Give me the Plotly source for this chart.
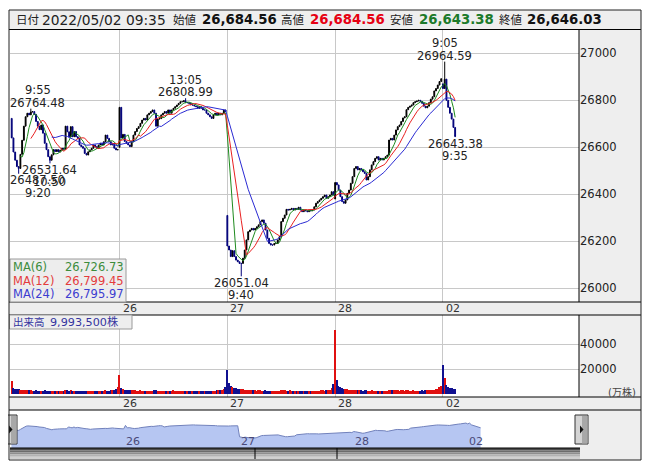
import pandas as pd
import plotly.graph_objects as go

# the page body adds an 8px margin; the figure is laid out in screen pixels
OFF = 8
W, H = 637, 454
FONT = "DejaVu Sans, Noto Sans CJK JP"

# ---- data (5-minute bars, 62 per day: 9:00-11:30 and 12:30-15:00) ----
day_labels = ["26", "27", "28", "02"]
day_opens = [26723, 26600, 26310, 26380, 26870]

close_0425 = [
    26640, 26580, 26545, 26518, 26510, 26570, 26630, 26690, 26730, 26745,
    26738, 26750, 26752, 26740, 26710, 26690, 26675, 26695, 26660, 26617,
    26590, 26560, 26545, 26568, 26590, 26582, 26590, 26580, 26588, 26596,
    26592, 26690, 26666, 26645, 26688, 26645, 26667, 26645, 26638, 26610,
    26603, 26596, 26574, 26567, 26581, 26589, 26596, 26610, 26603, 26596,
    26610, 26617, 26610, 26624, 26652, 26638, 26624, 26610, 26617, 26596,
    26589, 26590,
]
close_0426 = [
    26770, 26640, 26655, 26625, 26617, 26610, 26603, 26625, 26652, 26667,
    26680, 26688, 26702, 26716, 26723, 26716, 26738, 26745, 26752, 26759,
    26745, 26690, 26720, 26722, 26738, 26745, 26752, 26745, 26759, 26745,
    26759, 26766, 26773, 26780, 26787, 26794, 26794, 26798, 26790, 26790,
    26787, 26780, 26780, 26776, 26773, 26766, 26773, 26766, 26759, 26759,
    26745, 26738, 26730, 26723, 26738, 26745, 26738, 26745, 26738, 26745,
    26759, 26752,
]
close_0427 = [
    26180, 26163, 26135, 26160, 26135, 26120, 26113, 26106, 26106, 26128,
    26163, 26206, 26241, 26248, 26255, 26248, 26255, 26262, 26270, 26284,
    26291, 26277, 26248, 26213, 26191, 26184, 26184, 26191, 26191, 26206,
    26220, 26284, 26298, 26312, 26336, 26333, 26336, 26340, 26333, 26340,
    26336, 26345, 26333, 26326, 26333, 26330, 26326, 26333, 26330, 26333,
    26347, 26362, 26369, 26376, 26383, 26390, 26397, 26383, 26390, 26397,
    26411, 26397,
]
close_0428 = [
    26450, 26440, 26418, 26390, 26369, 26362, 26376, 26404, 26418, 26447,
    26475, 26510, 26518, 26504, 26510, 26504, 26496, 26489, 26461, 26475,
    26504, 26525, 26539, 26553, 26560, 26546, 26553, 26546, 26553, 26560,
    26567, 26631, 26638, 26631, 26652, 26674, 26688, 26695, 26710, 26725,
    26730, 26760, 26770, 26775, 26780, 26790, 26794, 26797, 26800, 26795,
    26787, 26775, 26768, 26775, 26790, 26805, 26815, 26840, 26850, 26865,
    26880, 26892,
]
close_0502 = [26850, 26890, 26800, 26770, 26745, 26720, 26684.56, 26646.03]

# volume in 万株
volume_0425 = [
    10400, 4600, 4200, 3800, 4400, 3600, 3500, 3400, 3200, 3000,
    2900, 3100, 2800, 2700, 2900, 2600, 2700, 2500, 2800, 2900,
    2700, 2600, 2800, 2500, 2400, 2500, 2300, 2400, 2500, 2400,
    2600, 3400, 3000, 2800, 3100, 2700, 2600, 2500, 2700, 2600,
    2500, 2400, 2600, 2500, 2400, 2300, 2500, 2400, 2600, 2500,
    2400, 2600, 2700, 2500, 2900, 2700, 2800, 3000, 3200, 3600,
    4400, 5600,
]
volume_0426 = [
    15200, 5200, 4000, 3600, 3400, 3300, 3100, 3000, 2900, 3000,
    2800, 2700, 2900, 2700, 2600, 2800, 2600, 2500, 2700, 2600,
    2900, 3000, 2700, 2500, 2400, 2600, 2400, 2300, 2500, 2400,
    2500, 2900, 2700, 2600, 2800, 2600, 2500, 2700, 2600, 2500,
    2400, 2600, 2500, 2400, 2300, 2500, 2600, 2400, 2500, 2700,
    2600, 2800, 2700, 2600, 2800, 2700, 2900, 3000, 3200, 3500,
    4200, 5400,
]
volume_0427 = [
    19200, 8800, 6400, 5600, 5000, 4600, 4400, 4200, 4000, 3800,
    3600, 3400, 3300, 3200, 3000, 3100, 2900, 2800, 3000, 2900,
    2800, 2700, 2900, 2800, 2600, 2700, 2500, 2600, 2500, 2400,
    2700, 3200, 3000, 2900, 2800, 2700, 2900, 2600, 2500, 2700,
    2600, 2500, 2400, 2600, 2500, 2400, 2300, 2500, 2400, 2600,
    2500, 2700, 2800, 2600, 2900, 3000, 2800, 3100, 3300, 3600,
    5200, 8400,
]
volume_0428 = [
    51200, 11200, 6800, 5400, 4800, 4400, 4000, 3800, 3600, 3500,
    3300, 3400, 3200, 3000, 3100, 2900, 2800, 3000, 2900, 2800,
    2700, 2900, 2800, 2600, 2700, 2500, 2600, 2500, 2400, 2600,
    2700, 3600, 3200, 3000, 3100, 2900, 3000, 2800, 3100, 2900,
    2800, 3000, 2900, 2700, 2800, 2900, 2700, 2600, 2800, 2700,
    2900, 2800, 3000, 2900, 3100, 3200, 3400, 3600, 3900, 4400,
    5400, 6800,
]
volume_0502 = [23200, 12800, 7400, 5600, 5000, 4600, 4200, 3800]

# labelled extremes: (day, bar of day, kind, value, time)
extremes = [
    (0, 4, "low", 26487.50, "9:20"),
    (0, 11, "high", 26764.48, "9:55"),
    (0, 22, "low", 26531.64, "10:50"),
    (1, 38, "high", 26808.99, "13:05"),
    (2, 8, "low", 26051.04, "9:40"),
    (4, 1, "high", 26964.59, "9:05"),
    (4, 7, "low", 26643.38, "9:35"),
]

ma_windows = [6, 12, 24]
ma_last = ["26,726.73", "26,799.45", "26,795.97"]

header_date = "2022/05/02 09:35"
header_ohlc = [("始値", "26,684.56"), ("高値", "26,684.56"),
               ("安値", "26,643.38"), ("終値", "26,646.03")]
volume_last = "9,993,500株"

price_ticks = [26000, 26200, 26400, 26600, 26800, 27000]
volume_ticks = [20000, 40000]

# ---- build series ----
closes_by_day = [close_0425, close_0426, close_0427, close_0428, close_0502]
volumes_by_day = [volume_0425, volume_0426, volume_0427, volume_0428, volume_0502]

opens, highs, lows, closes, volumes, day_start = [], [], [], [], [], []
for d, cl in enumerate(closes_by_day):
    day_start.append(len(closes))
    prev = day_opens[d]
    for c in cl:
        opens.append(prev)
        closes.append(c)
        highs.append(max(prev, c))
        lows.append(min(prev, c))
        prev = c
    volumes.extend(volumes_by_day[d])

for d, b, kind, value, t in extremes:
    i = day_start[d] + b
    if kind == "high":
        highs[i] = value
    else:
        lows[i] = value

idx = list(range(len(closes)))
s = pd.Series(closes, dtype=float)
ma = [s.rolling(w).mean() for w in ma_windows]

vol_colors = []
for i, c in enumerate(closes):
    up = i == 0 or c >= closes[i - 1]
    vol_colors.append("#e01010" if up else "#101090")

# ---- geometry (screen px) ----
PLOT_L, PLOT_R = 10, 579
BAR0, BAR = 11.7, 1.739
NAV0, NAVW = 11.4, 1.84


def px(x):
    return (x - OFF) / W


def py(y):
    return 1 - (y - OFF) / H


def price_at(y):
    return 27000 - (y - 53.3) * 4.255


x_range = [(PLOT_L - BAR0) / BAR, (PLOT_R - BAR0) / BAR]
day_ticks = [day_start[d] for d in range(1, 5)]

fig = go.Figure()

fig.add_trace(go.Candlestick(
    x=idx, open=opens, high=highs, low=lows, close=closes,
    increasing=dict(line=dict(color="#000000", width=1), fillcolor="#000000"),
    decreasing=dict(line=dict(color="#00007a", width=1), fillcolor="#00007a"),
    whiskerwidth=0, showlegend=False, hoverinfo="skip",
))

ma_colors = ["#1e8a1e", "#e82020", "#2a2ad2"]
for m, col in zip(ma, ma_colors):
    fig.add_trace(go.Scatter(x=idx, y=m, mode="lines", line=dict(color=col, width=1),
                             showlegend=False, hoverinfo="skip"))

fig.add_trace(go.Bar(x=idx, y=volumes, marker=dict(color=vol_colors, line=dict(width=0)),
                     width=0.75, xaxis="x2", yaxis="y2", showlegend=False, hoverinfo="skip"))

fig.add_trace(go.Scatter(x=idx, y=closes, mode="lines", fill="tozeroy",
                         fillcolor="#b6c6f2", line=dict(color="#7282bc", width=1),
                         xaxis="x3", yaxis="y3", showlegend=False, hoverinfo="skip"))

tickfont = dict(family=FONT, size=11.5, color="#222222")
fig.update_layout(
    width=W, height=H,
    margin=dict(l=0, r=0, t=0, b=0),
    paper_bgcolor="white", plot_bgcolor="white",
    xaxis=dict(domain=[px(PLOT_L), px(PLOT_R)], range=x_range, tickvals=day_ticks,
               showticklabels=False, ticks="", showgrid=True, gridcolor="#c8c8c8",
               zeroline=False, rangeslider=dict(visible=False), fixedrange=True),
    yaxis=dict(domain=[py(302), py(29.5)], range=[price_at(302), price_at(29.5)],
               side="right", tickvals=price_ticks,
               ticktext=[str(v) for v in price_ticks], tickfont=tickfont, ticks="",
               showgrid=True, gridcolor="#c8c8c8", zeroline=False, fixedrange=True),
    xaxis2=dict(domain=[px(PLOT_L), px(PLOT_R)], range=x_range, anchor="y2",
                tickvals=day_ticks, showticklabels=False, ticks="", showgrid=True,
                gridcolor="#c8c8c8", zeroline=False, fixedrange=True),
    yaxis2=dict(domain=[py(397), py(315)], range=[(394 - 397) * 800, (394 - 315) * 800],
                anchor="x2", side="right", tickvals=volume_ticks,
                ticktext=[str(v) for v in volume_ticks], tickfont=tickfont,
                ticks="", showgrid=True, gridcolor="#c8c8c8", zeroline=False,
                fixedrange=True),
    xaxis3=dict(domain=[px(10), px(580)], range=[(10 - NAV0) / NAVW, (580 - NAV0) / NAVW],
                anchor="y3", visible=False, fixedrange=True),
    yaxis3=dict(domain=[py(448), py(410)], range=[25596, 27572], anchor="x3",
                visible=False, fixedrange=True),
    bargap=0,
)

GRAY = "#eeeeee"
shapes = []


def rect(x0, y0, x1, y1, fill, line="rgba(0,0,0,0)", lw=0, layer="above"):
    shapes.append(dict(type="rect", xref="paper", yref="paper", x0=px(x0), x1=px(x1),
                       y0=py(y1), y1=py(y0), fillcolor=fill, layer=layer,
                       line=dict(color=line, width=lw)))


def hline(y, x0=9, x1=641, color="#000000"):
    shapes.append(dict(type="line", xref="paper", yref="paper", x0=px(x0), x1=px(x1),
                       y0=py(y), y1=py(y), line=dict(color=color, width=1)))


def vline(x, y0, y1, color="#000000"):
    shapes.append(dict(type="line", xref="paper", yref="paper", x0=px(x), x1=px(x),
                       y0=py(y0), y1=py(y1), line=dict(color=color, width=1)))


# bands (below, so the axis labels stay visible)
rect(9, 10, 641, 29.5, GRAY, layer="below")
rect(579, 29.5, 641, 302, GRAY, layer="below")
rect(9, 302, 641, 315, GRAY, layer="below")
rect(579, 315, 641, 397, GRAY, layer="below")
rect(9, 397, 641, 410, GRAY, layer="below")
rect(580, 410, 641, 460, GRAY, layer="below")
for yy in (29.5, 302, 315, 397, 410):
    hline(yy)
vline(579, 29.5, 302)
vline(579, 315, 397)

# legend boxes
rect(10, 259, 126, 302, "rgba(236,236,236,0.92)", "#9a9a9a", 1)
rect(9.5, 315, 132, 329, GRAY, "#9a9a9a", 1)

# navigator scrollbar
for k, col in enumerate(["#4c4c4c", "#6c6c6c", "#8e8e8e", "#b2b2b2", "#d0d0d0"]):
    rect(10, 448 + k * 2.2, 580, 448 + (k + 1) * 2.2, col)
hline(448, 10, 580)
vline(255, 448, 459)
vline(337, 448, 459)

# handles
for hx in (4, 575):
    rect(hx, 415, hx + 13, 444, "#d4d4d4", "#333333", 1)
    rect(hx + 7, 416, hx + 12.5, 443.5, "#a8a8a8")
    shapes.append(dict(type="path", xref="paper", yref="paper", fillcolor="#111111",
                       line=dict(width=0),
                       path=f"M {px(hx + 5)},{py(425.5)} L {px(hx + 8.5)},{py(429.5)} "
                            f"L {px(hx + 5)},{py(433.5)} Z"))

# outer border
rect(9, 10, 641, 460, "rgba(0,0,0,0)", "#222222", 1)
fig.update_layout(shapes=shapes)

# ---- text ----
def label(x, y, text, size=11.5, color="#222222", xanchor="left", xref="paper",
          yref="paper", yanchor="middle", xshift=0, yshift=0):
    fig.add_annotation(x=x, y=y, xref=xref, yref=yref, text=text, showarrow=False,
                       xanchor=xanchor, yanchor=yanchor, xshift=xshift, yshift=yshift,
                       font=dict(family=FONT, size=size, color=color), borderpad=0)


# header
label(px(14.5), py(19.5), "日付", size=11.5)
label(px(41), py(19.5), header_date, size=13.8)
head_x = [(172, 201), (280, 309), (389, 418), (498, 526)]
head_colors = ["#111111", "#e60012", "#1c7a2a", "#111111"]
for (name, val), (lx, vx), col in zip(header_ohlc, head_x, head_colors):
    label(px(lx), py(19.5), name, size=11.5)
    label(px(vx), py(19.5), f"<b>{val}</b>", size=13.3, color=col)

# date labels in both bands and in the navigator
for d, lab in enumerate(day_labels):
    i = day_ticks[d]
    label(i, py(308.5), lab, size=11, color="#333333", xref="x", xshift=2)
    label(i, py(403.5), lab, size=11, color="#333333", xref="x2", xshift=2)
    label(i, py(441), lab, size=11, color="#4a4a78", xref="x3", xshift=0)

# price extremes
for d, b, kind, value, t in extremes:
    i = day_start[d] + b
    shift = max(0.0, 37.5 - (BAR0 + BAR * i))
    if kind == "high":
        label(i, value, f"{value:.2f}", xanchor="center", xref="x", yref="y",
              yanchor="bottom", xshift=shift, yshift=-2)
        label(i, value, t, xanchor="center", xref="x", yref="y",
              yanchor="bottom", xshift=shift, yshift=10.5)
    else:
        label(i, value, f"{value:.2f}", xanchor="center", xref="x", yref="y",
              yanchor="top", xshift=shift, yshift=1.5)
        label(i, value, t, xanchor="center", xref="x", yref="y",
              yanchor="top", xshift=shift, yshift=-11)

# MA legend
ma_text_colors = ["#3c8c3c", "#e43c3c", "#3c3cd0"]
for k, (w, txt, col) in enumerate(zip(ma_windows, ma_last, ma_text_colors)):
    yy = 266.7 + k * 13.8
    label(px(12), py(yy), f"MA({w})", size=11.5, color=col)
    label(px(64), py(yy), txt, size=11.5, color=col)

# volume label
label(px(12), py(322), "出来高", size=10.5, color="#3434a0")
label(px(49), py(322), volume_last, size=11.2, color="#3434a0")
label(px(637), py(391.5), "(万株)", size=10, color="#444444", xanchor="right")

fig.write_html("out.html")
